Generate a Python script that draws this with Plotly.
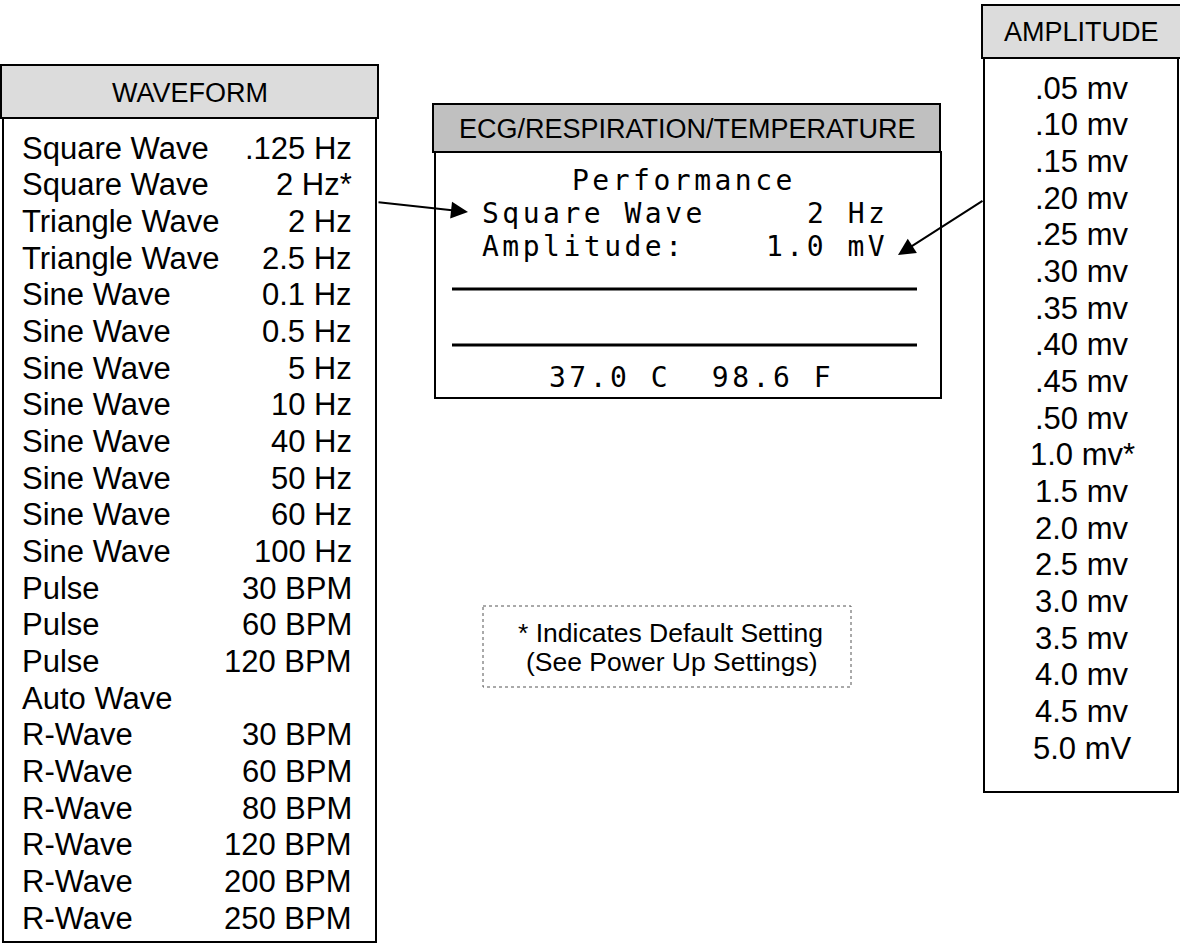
import plotly.graph_objects as go

W, H = 1180, 944

# menu contents
wave_names = ["Square Wave", "Square Wave", "Triangle Wave", "Triangle Wave",
              "Sine Wave", "Sine Wave", "Sine Wave", "Sine Wave", "Sine Wave",
              "Sine Wave", "Sine Wave", "Sine Wave", "Pulse", "Pulse", "Pulse",
              "Auto Wave", "R-Wave", "R-Wave", "R-Wave", "R-Wave", "R-Wave", "R-Wave"]
wave_values = [".125 Hz", "2 Hz*", "2 Hz", "2.5 Hz", "0.1 Hz", "0.5 Hz", "5 Hz",
               "10 Hz", "40 Hz", "50 Hz", "60 Hz", "100 Hz", "30 BPM", "60 BPM",
               "120 BPM", "", "30 BPM", "60 BPM", "80 BPM", "120 BPM", "200 BPM",
               "250 BPM"]
amp_levels = [".05 mv", ".10 mv", ".15 mv", ".20 mv", ".25 mv", ".30 mv", ".35 mv",
              ".40 mv", ".45 mv", ".50 mv", "1.0 mv*", "1.5 mv", "2.0 mv", "2.5 mv",
              "3.0 mv", "3.5 mv", "4.0 mv", "4.5 mv", "5.0 mV"]

lcd_title = "Performance"
lcd_rows = [("Square Wave", "2 Hz"), ("Amplitude:", "1.0 mV")]
lcd_temp = "37.0 C  98.6 F"
note_lines = ["* Indicates Default Setting", "(See Power Up Settings)"]

SANS = "Arial, Liberation Sans, sans-serif"
LCD = "DejaVu Sans Mono, monospace"
ROW = 36.67

fig = go.Figure()
shapes = []
ann = []


def box(x0, y0, x1, y1, fill="rgba(0,0,0,0)", width=2, dash="solid", color="black"):
    shapes.append(dict(type="rect", x0=x0, y0=y0, x1=x1, y1=y1, fillcolor=fill,
                       line=dict(color=color, width=width, dash=dash), layer="below"))


def text(x, y, s, size, anchor="center", family=SANS):
    ann.append(dict(x=x, y=y, text=s, showarrow=False, xanchor=anchor, yanchor="middle",
                    borderpad=0, font=dict(family=family, size=size, color="black")))


def lcd(s):
    # widen the mono font a bit to look like the LCD glyphs
    return "<span style='letter-spacing:3.5px'>" + s + "</span>"


# WAVEFORM panel
box(1, 65, 378, 118, fill="#dcdcdc")
box(3, 118, 376, 942)
text(190, 93, "WAVEFORM", 27)
for i, (n, v) in enumerate(zip(wave_names, wave_values)):
    y = 148 + i * ROW
    text(21, y, n, 31, "left")
    if v:
        text(353, y, v, 31, "right")

# LCD panel
box(433, 104, 940, 152, fill="#c0c0c0")
box(435, 152, 941, 398)
text(687, 129, "ECG/RESPIRATION/TEMPERATURE", 27)
text(684, 180, lcd(lcd_title), 28, family=LCD)
for i, (l, r) in enumerate(lcd_rows):
    y = 213 + i * 33
    text(481, y, lcd(l), 28, "left", LCD)
    text(889, y, lcd(r), 28, "right", LCD)
text(691, 377, lcd(lcd_temp), 28, family=LCD)
shapes.append(dict(type="line", x0=452, x1=917, y0=289, y1=289, line=dict(color="black", width=3)))
shapes.append(dict(type="line", x0=452, x1=917, y0=345, y1=345, line=dict(color="black", width=3)))

# AMPLITUDE panel
box(982, 5, 1182, 58, fill="#dcdcdc")
box(984, 58, 1178, 792)
text(1081, 32, "AMPLITUDE", 27)
for i, a in enumerate(amp_levels):
    text(1082, 88 + i * ROW, a, 31)

# note
box(483, 606, 851, 687, width=1, dash="dot", color="#555555")
text(670, 633, note_lines[0], 26.5)
text(672, 662, note_lines[1], 26.5)

# arrows
for (x, y, ax, ay) in [(468, 212, 377, 202), (898, 255, 984, 200)]:
    ann.append(dict(x=x, y=y, ax=ax, ay=ay, axref="x", ayref="y", text="",
                    showarrow=True, arrowhead=2, arrowsize=1.7, arrowwidth=2,
                    arrowcolor="black", standoff=0))

fig.update_layout(
    width=W, height=H, margin=dict(l=0, r=0, t=0, b=0),
    plot_bgcolor="white", paper_bgcolor="white",
    xaxis=dict(range=[0, W], visible=False, fixedrange=True),
    yaxis=dict(range=[H, 0], visible=False, fixedrange=True),
    shapes=shapes, annotations=ann, showlegend=False,
)

fig.write_html("out.html", config={"displayModeBar": False},
               post_script="document.body.style.margin='0px';")
